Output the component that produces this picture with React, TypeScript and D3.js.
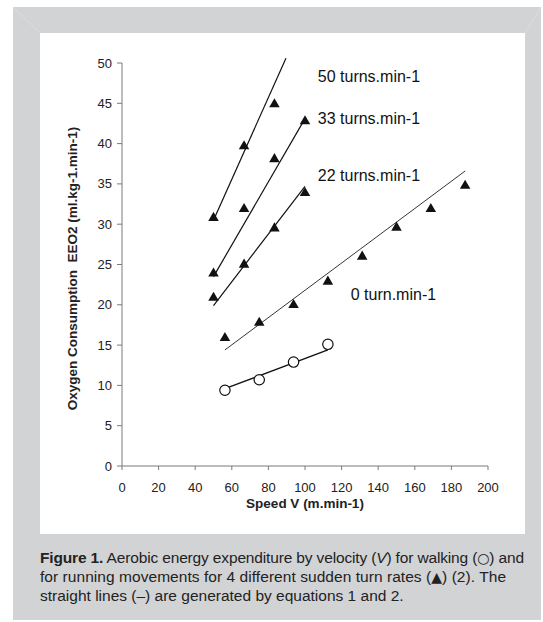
import React from "react";
import * as d3 from "d3";

const W = 543;
const H = 622;

const xTicks = [0, 20, 40, 60, 80, 100, 120, 140, 160, 180, 200];
const yTicks = [0, 5, 10, 15, 20, 25, 30, 35, 40, 45, 50];

// Running, 4 turn rates (triangles)
const run50X = [50, 66.7, 83.3];
const run50Y = [30.9, 39.8, 45.0];
const run33X = [50, 66.7, 83.3, 100];
const run33Y = [24.0, 32.0, 38.2, 42.9];
const run22X = [50, 66.7, 83.3, 100];
const run22Y = [21.0, 25.1, 29.6, 34.0];
const run0X = [56.25, 75, 93.75, 112.5, 131.25, 150, 168.75, 187.5];
const run0Y = [16.0, 17.9, 20.1, 23.0, 26.1, 29.7, 32.0, 34.9];
// Walking (circles)
const walkX = [56.25, 75, 93.75, 112.5];
const walkY = [9.4, 10.7, 12.9, 15.1];

// Equation lines: [x0, y0, x1, y1]
const line50 = [50, 30.5, 89.6, 50.6];
const line33 = [50, 23.5, 100, 43.1];
const line22 = [50, 19.9, 100, 34.7];
const line0 = [56.25, 14.4, 187.5, 36.6];
const lineWalk = [56.25, 9.6, 112.5, 14.4];

const labels = [
  { text: "50 turns.min-1", x: 107, y: 47.7 },
  { text: "33 turns.min-1", x: 107, y: 42.4 },
  { text: "22 turns.min-1", x: 107, y: 35.4 },
  { text: "0 turn.min-1", x: 125, y: 20.6 },
];

const FONT = "'Liberation Sans', Arial, Helvetica, sans-serif";
const SYM = "'DejaVu Sans', sans-serif";

export default function App() {
  const x = d3.scaleLinear().domain([0, 200]).range([122, 488]);
  const y = d3.scaleLinear().domain([0, 50]).range([466, 63]);
  const tri = d3.symbol().type(d3.symbolTriangle).size(48)();
  const axisColor = "#7a7a7a";

  const runSeries = [
    [run50X, run50Y],
    [run33X, run33Y],
    [run22X, run22Y],
    [run0X, run0Y],
  ];
  const lines = [
    { l: line50, w: 1.2 },
    { l: line33, w: 1.2 },
    { l: line22, w: 1.2 },
    { l: line0, w: 0.85 },
    { l: lineWalk, w: 1.4 },
  ];

  const capFs = 15.5;
  const capY = [563, 582, 601];

  return (
    <div style={{ position: "absolute", left: 0, top: 0 }}>
      <svg width={W} height={H} style={{ display: "block", fontFamily: FONT }}>
        <rect x={0} y={0} width={W} height={H} fill="#fff" />
        <rect x={13} y={7} width={528} height={613} fill="#d2d3d5" />
        <line x1={13} y1={7} x2={40} y2={33} stroke="#dcdde0" strokeWidth={1} />
        <line x1={541} y1={7} x2={525} y2={33} stroke="#dcdde0" strokeWidth={1} />
        <rect x={40} y={33} width={485} height={501} fill="#fff" />

        {/* axes */}
        <line x1={x(0)} y1={y(0)} x2={x(0)} y2={y(50)} stroke={axisColor} strokeWidth={1} />
        <line x1={x(0)} y1={y(0)} x2={x(200)} y2={y(0)} stroke={axisColor} strokeWidth={1} />
        {yTicks.map((t) => (
          <g key={"y" + t}>
            <line x1={x(0) - 5} x2={x(0)} y1={y(t)} y2={y(t)} stroke={axisColor} />
            <text x={x(0) - 10} y={y(t) + 4.5} textAnchor="end" fontSize={13} fill="#222">
              {t}
            </text>
          </g>
        ))}
        {xTicks.map((t) => (
          <g key={"x" + t}>
            <line x1={x(t)} x2={x(t)} y1={y(0)} y2={y(0) + 4} stroke={axisColor} />
            <text x={x(t)} y={y(0) + 26} textAnchor="middle" fontSize={13} fill="#222">
              {t}
            </text>
          </g>
        ))}
        <text x={305} y={508} textAnchor="middle" fontSize={13.5} fontWeight="bold" fill="#222">
          Speed V (m.min-1)
        </text>
        <text
          transform={`translate(77,${(y(0) + y(50)) / 2 + 4}) rotate(-90)`}
          textAnchor="middle"
          fontSize={13.5}
          fontWeight="bold"
          fill="#222"
        >
          {"Oxygen Consumption\u00a0 EEO2 (ml.kg-1.min-1)"}
        </text>

        {/* equation lines */}
        {lines.map((d, i) => (
          <line
            key={"l" + i}
            x1={x(d.l[0])}
            y1={y(d.l[1])}
            x2={x(d.l[2])}
            y2={y(d.l[3])}
            stroke="#111"
            strokeWidth={d.w}
          />
        ))}

        {/* triangles */}
        {runSeries.map(([xs, ys], si) =>
          xs.map((v, i) => (
            <path
              key={"t" + si + "-" + i}
              d={tri as string}
              transform={`translate(${x(v)},${y(ys[i]) + 1})`}
              fill="#111"
            />
          ))
        )}

        {/* circles */}
        {walkX.map((v, i) => (
          <circle key={"c" + i} cx={x(v)} cy={y(walkY[i])} r={5.2} fill="#fff" stroke="#111" strokeWidth={1.2} />
        ))}

        {labels.map((l) => (
          <text key={l.text} x={x(l.x)} y={y(l.y)} fontSize={16} fill="#111">
            {l.text}
          </text>
        ))}

        {/* caption */}
        <text x={40} y={capY[0]} fontSize={capFs} fill="#222" textLength={484} lengthAdjust="spacing">
          <tspan fontWeight="bold">Figure 1.</tspan>
          <tspan> Aerobic energy expenditure by velocity (</tspan>
          <tspan fontStyle="italic">V</tspan>
          <tspan>) for walking (</tspan>
          <tspan fontFamily={SYM} fontSize={14}>○</tspan>
          <tspan>) and</tspan>
        </text>
        <text x={40} y={capY[1]} fontSize={capFs} fill="#222" textLength={466} lengthAdjust="spacing">
          <tspan>for running movements for 4 different sudden turn rates (</tspan>
          <tspan fontFamily={SYM} fontSize={14}>▲</tspan>
          <tspan>) (2). The</tspan>
        </text>
        <text x={40} y={capY[2]} fontSize={capFs} fill="#222">
          straight lines (–) are generated by equations 1 and 2.
        </text>
      </svg>
    </div>
  );
}
